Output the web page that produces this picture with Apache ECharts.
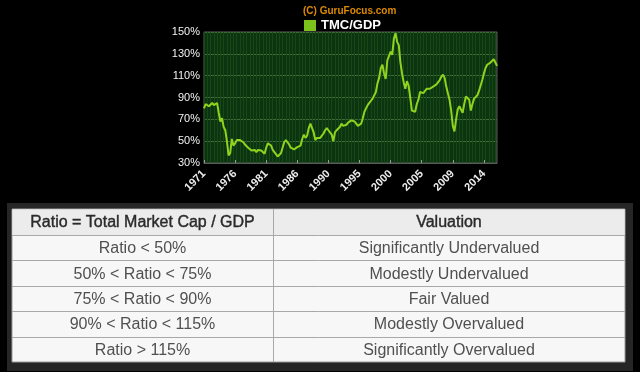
<!DOCTYPE html>
<html>
<head>
<meta charset="utf-8">
<script src="https://cdn.jsdelivr.net/npm/echarts@6/dist/echarts.min.js"></script>
<style>
html,body{margin:0;padding:0;background:#000;}
#c{width:640px;height:372px;}
</style>
</head>
<body>
<div id="c"></div>
<script>
// Quarterly TMC/GDP ratio (%), 1971 Q1 onward
const tmcGdp = [
  80, 84, 83, 82, 83, 85, 83, 84, 85, 76,
  68, 71, 63, 60, 50, 37, 39, 52, 46, 48,
  51, 51, 51, 50, 49, 47, 45.5, 44, 42.5, 41.5,
  41.5, 42, 40, 42, 42, 41.5, 42, 38.5, 44, 48,
  49, 46, 42, 40, 38.5, 36, 35.5, 39, 44, 49,
  51, 49, 47, 44, 42.5, 42.5, 43, 44.5, 46, 46,
  52, 56, 53, 55, 62, 66, 67, 58, 51, 53,
  54, 53, 55, 57, 60, 62, 60, 59, 56, 50,
  58, 60, 60, 63, 66, 64, 64, 65, 67, 68,
  69, 69, 68, 66, 64, 63, 66, 71, 77, 80,
  83, 85, 87, 89, 90, 95, 103, 108, 117, 120,
  112, 107, 124, 128, 132, 129, 144, 149, 141, 138,
  122, 112, 104, 98, 105, 101, 90, 78, 77, 77,
  84, 88, 95, 96, 94, 94, 98, 97, 98, 98,
  100, 99, 102, 103, 106, 109, 111, 108, 100, 94,
  88, 78, 64, 59, 70, 79, 82, 82, 76, 84,
  91, 92, 88, 78, 84, 89, 90, 92, 96, 101,
  106, 112, 117, 120, 120, 122, 123, 125, 122, 119
];
const startYear = 1971;
const periods = tmcGdp.map((_, i) => (startYear + Math.floor(i / 4)) + ' Q' + (i % 4 + 1));
const xTickLabels = ['1971', '1976', '1981', '1986', '1990', '1995', '2000', '2005', '2009', '2014'];
const yTicks = [30, 50, 70, 90, 110, 130, 150];

const tableHeader = ['Ratio = Total Market Cap / GDP', 'Valuation'];
const ratioRanges = ['Ratio < 50%', '50% < Ratio < 75%', '75% < Ratio < 90%', '90% < Ratio < 115%', 'Ratio > 115%'];
const valuations = ['Significantly Undervalued', 'Modestly Undervalued', 'Fair Valued', 'Modestly Overvalued', 'Significantly Overvalued'];

const labelStep = 19;
const FONT = '"Liberation Sans", Arial, sans-serif';

// Table layout
const T = { x0: 12, x1: 625, col: 273, top: 209, headH: 26, rowH: 25.4 };
const graphics = [];
graphics.push({ type: 'rect', silent: true, shape: { x: 7, y: 203, width: 626, height: 168 }, style: { fill: '#262626' } });
const tableBottom = T.top + T.headH + T.rowH * ratioRanges.length;
graphics.push({ type: 'rect', silent: true, shape: { x: T.x0, y: T.top, width: T.x1 - T.x0, height: tableBottom - T.top }, style: { fill: '#f7f7f7', stroke: '#9a9a9a', lineWidth: 1 } });
graphics.push({ type: 'rect', silent: true, shape: { x: T.x0 + 0.5, y: T.top + 0.5, width: T.x1 - T.x0 - 1, height: T.headH }, style: { fill: '#ececec' } });
function txt(text, x, y, color, stroke) {
  const s = { text: text, x: x, y: y, align: 'center', verticalAlign: 'middle', textAlign: 'center', textVerticalAlign: 'middle', font: '16px ' + FONT, fill: color };
  if (stroke) { s.stroke = color; s.lineWidth = 0.4; }
  return { type: 'text', silent: true, style: s };
}
const c1 = (T.x0 + T.col) / 2, c2 = (T.col + T.x1) / 2;
graphics.push(txt(tableHeader[0], c1, T.top + T.headH / 2 + 1, '#2a2a2a', true));
graphics.push(txt(tableHeader[1], c2, T.top + T.headH / 2 + 1, '#2a2a2a', true));
for (let k = 0; k < ratioRanges.length; k++) {
  const yTop = T.top + T.headH + T.rowH * k;
  graphics.push({ type: 'line', silent: true, shape: { x1: T.x0, y1: Math.round(yTop) + 0.5, x2: T.x1, y2: Math.round(yTop) + 0.5 }, style: { stroke: '#a8a8a8', lineWidth: 1 } });
  graphics.push(txt(ratioRanges[k], c1, yTop + T.rowH / 2 + 1, '#505050'));
  graphics.push(txt(valuations[k], c2, yTop + T.rowH / 2 + 1, '#505050'));
}
graphics.push({ type: 'line', silent: true, shape: { x1: T.col + 0.5, y1: T.top, x2: T.col + 0.5, y2: tableBottom }, style: { stroke: '#a8a8a8', lineWidth: 1 } });

const chart = echarts.init(document.getElementById('c'), null, { renderer: 'canvas' });
chart.setOption({
  backgroundColor: '#000000',
  animation: false,
  title: {
    text: '(C) GuruFocus.com',
    left: 298, top: 1,
    textStyle: { color: '#dd8a00', fontSize: 10, fontWeight: 'bold', fontFamily: FONT }
  },
  legend: {
    data: ['TMC/GDP'],
    left: 299, top: 14,
    icon: 'rect', itemWidth: 12, itemHeight: 11, itemGap: 5,
    textStyle: { color: '#ffffff', fontSize: 13, fontWeight: 'bold', fontFamily: FONT }
  },
  grid: {
    left: 204, right: 143, top: 32, bottom: 209,
    show: true, backgroundColor: '#0c3410', borderColor: '#5c5c5c', borderWidth: 1
  },
  xAxis: {
    type: 'category',
    data: periods,
    boundaryGap: false,
    axisLine: { show: true, lineStyle: { color: '#5c5c5c', width: 1 } },
    axisTick: { show: true, inside: true, length: 3, interval: labelStep - 1, lineStyle: { color: '#9a9a9a' } },
    splitLine: { show: true, interval: 1, lineStyle: { color: '#174917', width: 1 } },
    axisLabel: {
      interval: labelStep - 1,
      rotate: 45,
      margin: 9,
      color: '#ececec',
      fontSize: 11,
      fontWeight: 'bold',
      fontFamily: FONT,
      formatter: function (v, i) { return xTickLabels[Math.round(i / labelStep)] || ''; }
    }
  },
  yAxis: {
    type: 'value',
    min: yTicks[0], max: yTicks[yTicks.length - 1], interval: yTicks[1] - yTicks[0],
    axisLine: { show: false },
    axisTick: { show: false },
    splitLine: { show: true, lineStyle: { color: '#3e6b38', width: 1 } },
    axisLabel: { color: '#f2f2f2', fontSize: 11, fontFamily: FONT, margin: 4, formatter: '{value}%' }
  },
  series: [{
    name: 'TMC/GDP',
    type: 'line',
    data: tmcGdp,
    showSymbol: false,
    symbol: 'none',
    itemStyle: { color: '#7cc21c' },
    lineStyle: { color: '#8fd31e', width: 2 },
    z: 3
  }],
  graphic: graphics
});
</script>
</body>
</html>
